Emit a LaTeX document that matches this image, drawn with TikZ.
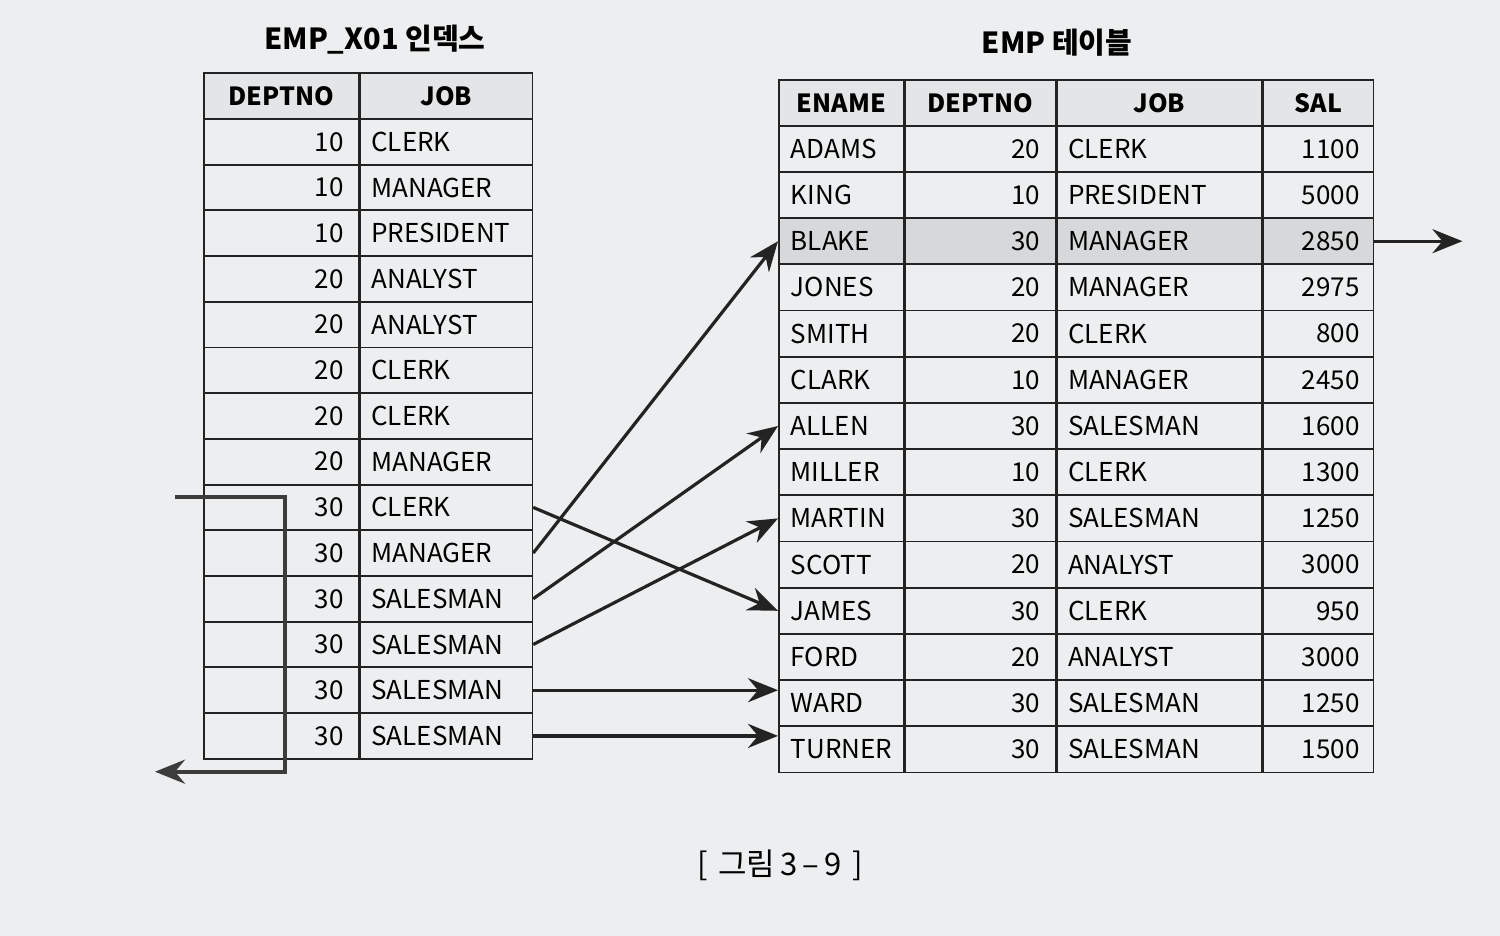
\documentclass[tikz,border=0pt]{standalone}
\usepackage{fontspec}
\setmainfont{Noto Sans CJK KR}
\usetikzlibrary{arrows.meta,positioning}
\definecolor{paper}{RGB}{236,238,239}
\definecolor{headgray}{RGB}{227,229,230}
\definecolor{rowgray}{RGB}{214,216,217}
\definecolor{inkline}{RGB}{35,35,35}
\definecolor{scanline}{RGB}{60,60,60}

\begin{document}
\begin{tikzpicture}
[x=1pt,y=-1pt,>={Stealth[length=30pt,width=24pt,inset=10pt]}, font=\fontsize{26}{30}\selectfont]
\tikzstyle{cell}=[draw=inkline, line width=1.6pt, minimum height=46pt, inner xsep=0pt, inner ysep=0pt, anchor=north west]
\tikzstyle{head}=[cell, fill=headgray, font=\fontsize{25}{30}\selectfont\bfseries]
\tikzstyle{title}=[font=\fontsize{29}{34}\selectfont\bfseries]
\tikzstyle{link}=[->, draw=inkline, line width=3.2pt]
\tikzstyle{scan}=[->, draw=scanline, line width=4pt]

\useasboundingbox[fill=paper] (0,0) rectangle (1500,936);

% EMP_X01 index
\node[title] (ix_title) at (375,40) {EMP\_X01 인덱스};
\node[head, minimum width=155pt] (ix_hd) at (203,72) {DEPTNO};
\node[head, minimum width=172pt] (ix_hj) [right=0pt of ix_hd] {JOB};
\foreach \d/\j [count=\i] in {10/CLERK,10/MANAGER,10/PRESIDENT,20/ANALYST,20/ANALYST,20/CLERK,20/CLERK,20/MANAGER,30/CLERK,30/MANAGER,30/SALESMAN,30/SALESMAN,30/SALESMAN,30/SALESMAN}
{
  \node[cell, minimum width=155pt, text width=125pt, align=right] (ix_d\i) at (203,{118+(\i-1)*45.7}) {\d};
  \node[cell, minimum width=172pt, text width=150pt, align=left] (ix_j\i) [right=0pt of ix_d\i] {\j};
}

% EMP table
\node[title] (tb_title) at (1057,43) {EMP 테이블};
\node[head, minimum width=125pt] (tb_hn) at (778,79) {ENAME};
\node[head, minimum width=150pt] (tb_hd) [right=0pt of tb_hn] {DEPTNO};
\node[head, minimum width=205pt] (tb_hj) [right=0pt of tb_hd] {JOB};
\node[head, minimum width=110pt] (tb_hs) [right=0pt of tb_hj] {SAL};
\foreach \n/\d/\j/\s [count=\i] in {ADAMS/20/CLERK/1100,KING/10/PRESIDENT/5000,BLAKE/30/MANAGER/2850,JONES/20/MANAGER/2975,SMITH/20/CLERK/800,CLARK/10/MANAGER/2450,ALLEN/30/SALESMAN/1600,MILLER/10/CLERK/1300,MARTIN/30/SALESMAN/1250,SCOTT/20/ANALYST/3000,JAMES/30/CLERK/950,FORD/20/ANALYST/3000,WARD/30/SALESMAN/1250,TURNER/30/SALESMAN/1500}
{
  \ifnum\i=3 \def\rowfill{rowgray}\else\def\rowfill{none}\fi
  \node[cell, fill=\rowfill, minimum width=125pt, text width=101pt, align=left] (tb_n\i) at (778,{125+(\i-1)*46.2}) {\n};
  \node[cell, fill=\rowfill, minimum width=150pt, text width=120pt, align=right] (tb_d\i) [right=0pt of tb_n\i] {\d};
  \node[cell, fill=\rowfill, minimum width=205pt, text width=183pt, align=left] (tb_j\i) [right=0pt of tb_d\i] {\j};
  \node[cell, fill=\rowfill, minimum width=110pt, text width=82pt, align=right] (tb_s\i) [right=0pt of tb_j\i] {\s};
}

% rowid lookups
\draw[link] (ix_j9.east) -- (tb_n11.west);
\draw[link] (ix_j10.east) -- (tb_n3.west);
\draw[link] (ix_j11.east) -- (tb_n7.west);
\draw[link] (ix_j12.east) -- (tb_n9.west);
\draw[link] (ix_j13.east) -- (ix_j13.east -| tb_n13.west);
\draw[link] (ix_j14.east) -- (ix_j14.east -| tb_n14.west);

\coordinate (blake_out) at ([xshift=88pt]tb_s3.east);
\draw[link] (tb_s3.east) -- (blake_out);

% range scan
\coordinate (scan_in) at ([xshift=-28pt,yshift=-13pt]ix_d9.north west);
\coordinate (scan_turn) at ([xshift=82pt]ix_d9.north west);
\coordinate (scan_out) at ([xshift=-48pt,yshift=-12pt]ix_d14.south west);
\draw[scan] (scan_in) -- (scan_in -| scan_turn) -- (scan_turn |- scan_out) -- (scan_out);

\node[font=\fontsize{31}{36}\selectfont] (caption) at (780,865) {[\,\,그림\,3\,–\,9\,\,]};
\end{tikzpicture}
\end{document}
